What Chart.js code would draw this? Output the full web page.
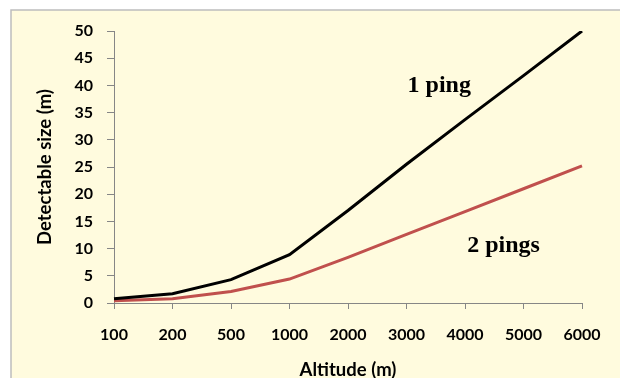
<!DOCTYPE html>
<html>
<head>
<meta charset="utf-8">
<script src="https://cdn.jsdelivr.net/npm/chart.js@4"></script>
<style>
  html, body { margin: 0; padding: 0; background: #ffffff; }
  #wrap { width: 620px; height: 378px; }
</style>
</head>
<body>
<div id="wrap"><canvas id="chart" width="620" height="378"></canvas></div>
<script>
// Altitude categories (m)
const altitudes = ['100', '200', '500', '1000', '2000', '3000', '4000', '5000', '6000'];
// Detectable size (m) for a single ping
const onePing = [0.8, 1.7, 4.3, 8.9, 17.0, 25.5, 33.7, 41.8, 50.0];
// Detectable size (m) for two pings
const twoPings = [0.4, 0.8, 2.1, 4.4, 8.4, 12.6, 16.8, 21.0, 25.2];
// Y axis range
const yMin = 0, yMax = 50, yStep = 5;

// Series captions placed inside the plot: [text, category position, value]
const captions = [
  ['1 ping', 5.56, 38.8],
  ['2 pings', 6.66, 9.3]
];

const AXIS_GREY = '#868686';
const LABEL_FONT = { family: 'Lato', size: 16, weight: 'bold' };
const TITLE_FONT = { family: 'Lato', size: 18.5, weight: 'bold' };

const panel = {
  id: 'panel',
  beforeDraw(chart) {
    const ctx = chart.ctx;
    ctx.save();
    ctx.fillStyle = '#ffffff';
    ctx.fillRect(0, 0, chart.width, chart.height);
    ctx.fillStyle = 'rgb(255,251,222)';
    ctx.fillRect(11, 10, chart.width, chart.height);
    ctx.strokeStyle = '#bdbdbd';
    ctx.lineWidth = 1.5;
    ctx.beginPath();
    ctx.moveTo(11, chart.height + 2);
    ctx.lineTo(11, 10);
    ctx.lineTo(chart.width + 2, 10);
    ctx.stroke();
    ctx.restore();
  }
};

const captionPlugin = {
  id: 'captions',
  afterDatasetsDraw(chart) {
    const ctx = chart.ctx;
    const xs = chart.scales.x, ys = chart.scales.y;
    ctx.save();
    ctx.fillStyle = '#000000';
    ctx.font = 'bold 24px "Liberation Serif", "Times New Roman", serif';
    ctx.textAlign = 'center';
    ctx.textBaseline = 'alphabetic';
    captions.forEach(([text, xv, yv]) => {
      ctx.fillText(text, xs.getPixelForValue(xv), ys.getPixelForValue(yv));
    });
    ctx.restore();
  }
};

new Chart(document.getElementById('chart'), {
  type: 'line',
  data: {
    labels: altitudes,
    datasets: [
      {
        label: '1 ping',
        data: onePing,
        borderColor: '#000000',
        borderWidth: 3,
        pointRadius: 0,
        tension: 0,
        fill: false
      },
      {
        label: '2 pings',
        data: twoPings,
        borderColor: '#c0504d',
        borderWidth: 3,
        pointRadius: 0,
        tension: 0,
        fill: false
      }
    ]
  },
  options: {
    responsive: false,
    animation: false,
    layout: { padding: { left: 0, right: 38, top: 31, bottom: 0 } },
    plugins: {
      legend: { display: false },
      tooltip: { enabled: false }
    },
    scales: {
      x: {
        type: 'category',
        offset: false,
        afterFit(scale) { scale.height = 75; },
        border: { display: true, color: AXIS_GREY, width: 1 },
        grid: {
          display: true,
          drawOnChartArea: false,
          drawTicks: true,
          tickLength: 6,
          color: AXIS_GREY
        },
        ticks: {
          color: '#000000',
          font: LABEL_FONT,
          padding: 16,
          maxRotation: 0,
          autoSkip: false
        },
        title: {
          display: true,
          text: 'Altitude (m)',
          color: '#000000',
          font: TITLE_FONT,
          padding: { top: 0, bottom: -3 }
        }
      },
      y: {
        min: yMin,
        max: yMax,
        afterFit(scale) { scale.width = 114; },
        border: { display: true, color: AXIS_GREY, width: 1 },
        grid: {
          display: true,
          drawOnChartArea: false,
          drawTicks: true,
          tickLength: 7,
          color: AXIS_GREY
        },
        ticks: {
          stepSize: yStep,
          color: '#000000',
          font: LABEL_FONT,
          padding: 14
        },
        title: {
          display: true,
          text: 'Detectable size (m)',
          color: '#000000',
          font: TITLE_FONT,
          padding: { top: 34, bottom: 0 }
        }
      }
    }
  },
  plugins: [panel, captionPlugin]
});
</script>
</body>
</html>
